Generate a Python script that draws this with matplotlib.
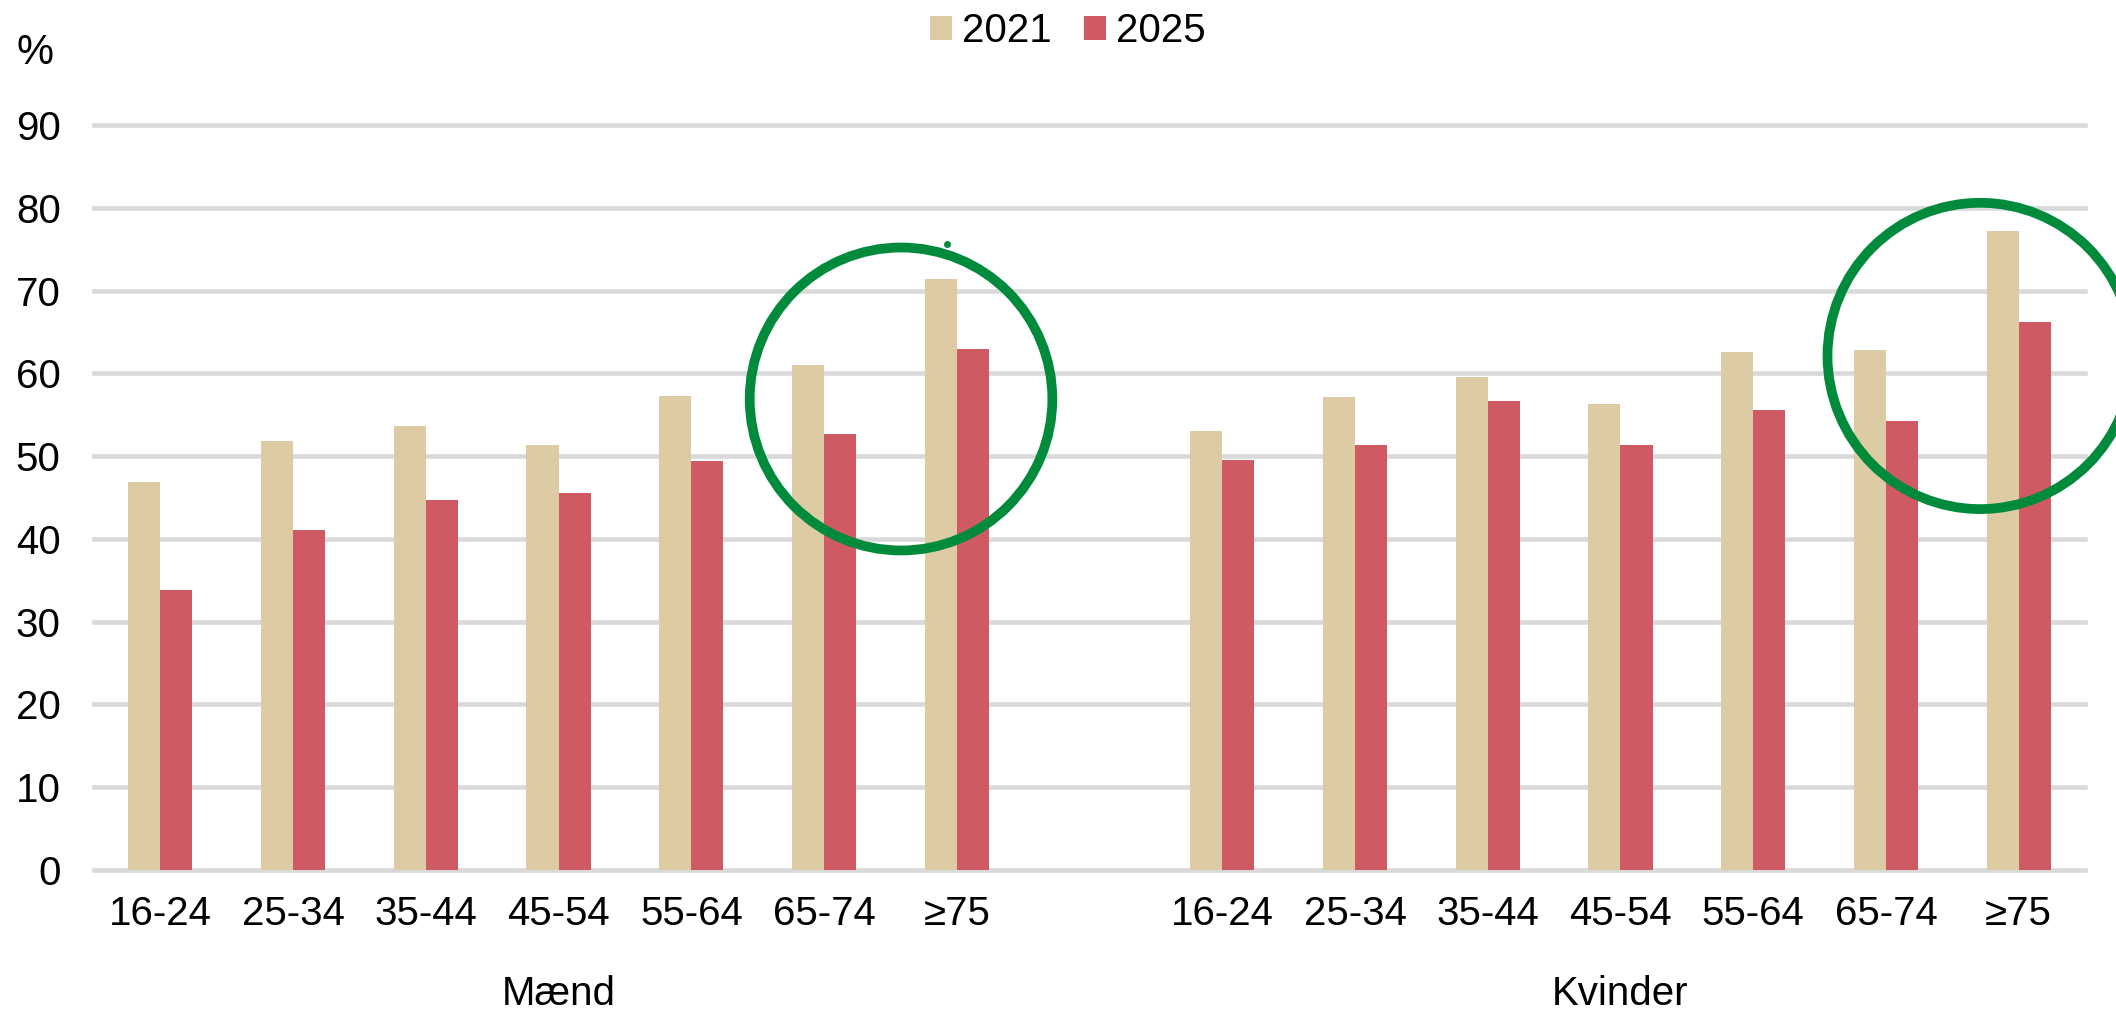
import matplotlib
matplotlib.use("Agg")
import matplotlib.pyplot as plt
from matplotlib.patches import Ellipse, Patch
import numpy as np

plt.rcParams['font.family'] = ['Liberation Sans', 'DejaVu Sans']

age_groups = ["16-24", "25-34", "35-44", "45-54", "55-64", "65-74", "≥75"]
groups = ["Mænd", "Kvinder"]
series_names = ["2021", "2025"]
maend_2021 = [46.9, 51.8, 53.6, 51.4, 57.3, 61.0, 71.4]
maend_2025 = [33.8, 41.1, 44.7, 45.6, 49.4, 52.7, 62.9]
kvinder_2021 = [53.0, 57.2, 59.6, 56.3, 62.6, 62.8, 77.2]
kvinder_2025 = [49.5, 51.4, 56.6, 51.4, 55.6, 54.3, 66.2]
yticks = list(range(0, 100, 10))

c2021 = "#DDCBA4"
c2025 = "#D05A63"
green = "#008A3B"
fs = 29

fig = plt.figure(figsize=(21.16, 10.10), dpi=100)
ax = fig.add_axes([94/2116, 1-870/1010, 1991/2116, 745/1010])

n = len(age_groups)
pos_m = np.arange(n)
pos_k = np.arange(n) + n + 1
w = 0.242
ax.bar(pos_m - w/2, maend_2021, width=w, color=c2021, zorder=2)
ax.bar(pos_m + w/2, maend_2025, width=w, color=c2025, zorder=2)
ax.bar(pos_k - w/2, kvinder_2021, width=w, color=c2021, zorder=2)
ax.bar(pos_k + w/2, kvinder_2025, width=w, color=c2025, zorder=2)

ax.set_xlim(-0.5, 2*n + 0.5)
ax.set_ylim(0, 90)
ax.set_yticks(yticks)
ax.set_yticklabels([str(t) for t in yticks])
ax.set_xticks(list(pos_m) + list(pos_k))
ax.set_xticklabels(age_groups + age_groups)
ax.tick_params(axis='both', length=0, labelsize=fs, colors='black')
ax.tick_params(axis='y', pad=24)
ax.tick_params(axis='x', pad=18)
for s in ax.spines.values():
    s.set_visible(False)
ax.set_axisbelow(True)
ax.yaxis.grid(True, color="#D9D9D9", linewidth=3.3)
for gl in ax.get_ygridlines():
    gl.set_clip_on(False)

# group labels
trans = matplotlib.transforms.blended_transform_factory(ax.transData, fig.transFigure)
ax.text(pos_m.mean(), 5/1010, groups[0], transform=trans, ha='center', va='baseline', fontsize=fs)
ax.text(pos_k.mean(), 5/1010, groups[1], transform=trans, ha='center', va='baseline', fontsize=fs)

# % label
fig.text(35/2116, 1-53/1010, "%", ha='center', va='center', fontsize=30)

# legend
handles = [Patch(facecolor=c2021, edgecolor='none'), Patch(facecolor=c2025, edgecolor='none')]
fig.legend(handles, series_names, loc='center', bbox_to_anchor=(1068/2116, 1-31/1010),
           ncol=2, frameon=False, fontsize=fs, handlelength=0.55, handleheight=0.55,
           handletextpad=0.25, columnspacing=0.8, borderpad=0)

# green highlight ellipses
ax.add_patch(Ellipse((5.58, 56.9), 2.28, 36.6, fill=False, edgecolor=green, linewidth=7, clip_on=False, zorder=5))
ax.add_patch(Ellipse((13.71, 62.1), 2.30, 37.0, fill=False, edgecolor=green, linewidth=7, clip_on=False, zorder=5))
ax.plot([5.93], [75.6], marker='o', markersize=4, color=green, clip_on=False, zorder=5)

fig.savefig("out.png", dpi=100)
